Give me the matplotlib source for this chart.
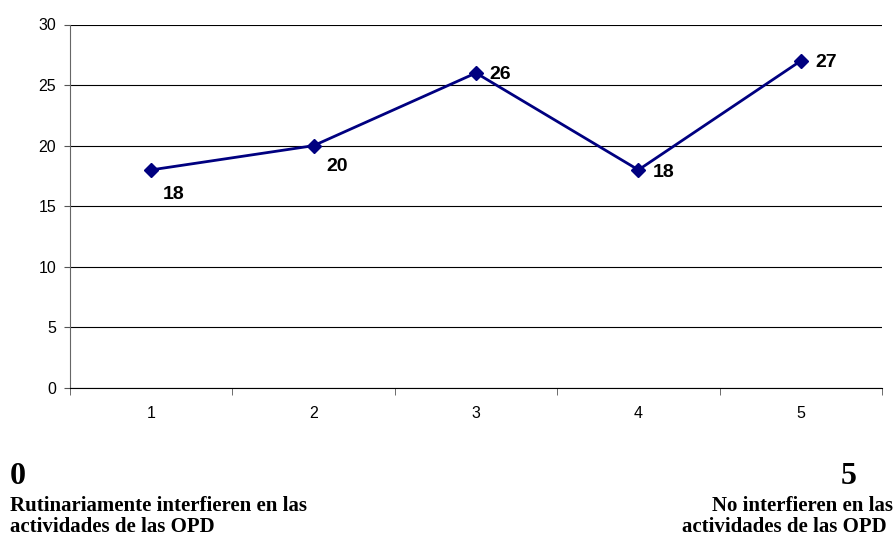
import matplotlib
matplotlib.use("Agg")
import matplotlib.pyplot as plt

categories = ["1", "2", "3", "4", "5"]
values = [18, 20, 26, 18, 27]
yticks = [0, 5, 10, 15, 20, 25, 30]
label_offsets = [(8.5, -18), (9.5, -15), (9.5, -1), (10, -2), (10.5, -1)]

W, H = 894, 537
fig = plt.figure(figsize=(W / 100, H / 100), dpi=100)
ax = fig.add_axes([70 / W, 1 - 388 / H, (882 - 70) / W, (388 - 24.5) / H])

x = list(range(len(categories)))
ax.plot(x, values, color="#000080", lw=2, marker="D", markersize=7.5,
        markerfacecolor="#000080", markeredgecolor="#000080", zorder=3, clip_on=False)

for xi, v, (dx, dy) in zip(x, values, label_offsets):
    ax.annotate(str(v), (xi, v), xytext=(dx, dy), textcoords="offset points",
                ha="left", va="center", fontsize=14, fontweight="bold",
                family="Liberation Sans")

ax.set_xlim(-0.5, len(categories) - 0.5)
ax.set_ylim(0, 30)
ax.set_yticks(yticks)
ax.set_yticklabels([str(t) for t in yticks], family="Liberation Sans", fontsize=11.5)
ax.yaxis.grid(True, color="black", lw=0.8)
ax.set_axisbelow(True)

ax.set_xticks(x)
ax.set_xticklabels(categories, family="Liberation Sans", fontsize=11.5)
ax.tick_params(axis="x", which="major", length=0, pad=13)
ax.set_xticks([i - 0.5 for i in range(len(categories) + 1)], minor=True)
ax.tick_params(axis="x", which="minor", length=5, color="#555555", direction="out")
ax.tick_params(axis="y", length=4, pad=6, color="#555555", direction="out")

for s in ["top", "right"]:
    ax.spines[s].set_visible(False)
ax.spines["left"].set_color("#666666")
ax.spines["bottom"].set_color("black")

serif = "Liberation Serif"
fig.text(10 / W, 1 - 484 / H, "0", fontsize=23, fontweight="bold", family=serif, ha="left", va="baseline")
fig.text(10 / W, 1 - 511 / H, "Rutinariamente interfieren en las", fontsize=15, fontweight="bold", family=serif, ha="left", va="baseline")
fig.text(10 / W, 1 - 532 / H, "actividades de las OPD", fontsize=15, fontweight="bold", family=serif, ha="left", va="baseline")
fig.text(857 / W, 1 - 484 / H, "5", fontsize=23, fontweight="bold", family=serif, ha="right", va="baseline")
fig.text(893 / W, 1 - 511 / H, "No interfieren en las", fontsize=15, fontweight="bold", family=serif, ha="right", va="baseline")
fig.text(887 / W, 1 - 532 / H, "actividades de las OPD", fontsize=15, fontweight="bold", family=serif, ha="right", va="baseline")

fig.savefig("out.png", dpi=100)
